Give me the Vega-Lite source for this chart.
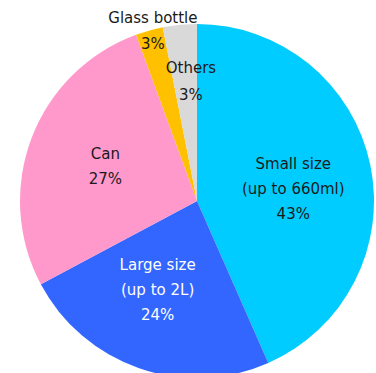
{
  "$schema": "https://vega.github.io/schema/vega-lite/v6.json",
  "width": 358,
  "height": 344,
  "autosize": {"type": "none"},
  "padding": {"left": 18, "right": 0, "top": 29, "bottom": 0},
  "background": "white",
  "view": {"stroke": null},
  "data": {
    "values": [
      {"category": "Small size", "value": 43.4, "order": 1, "label": "Small size\n(up to 660ml)\n43%"},
      {"category": "Large size", "value": 23.8, "order": 2, "label": "Large size\n(up to 2L)\n24%"},
      {"category": "Can", "value": 27.2, "order": 3, "label": "Can\n27%"},
      {"category": "Glass bottle", "value": 2.5, "order": 4, "label": "Glass bottle\n3%"},
      {"category": "Others", "value": 3.1, "order": 5, "label": "Others\n3%"}
    ]
  },
  "encoding": {
    "theta": {"field": "value", "type": "quantitative", "stack": true},
    "order": {"field": "order", "type": "quantitative", "sort": "ascending"}
  },
  "layer": [
    {
      "mark": {"type": "arc", "radius": 177, "stroke": null},
      "encoding": {
        "color": {
          "field": "category",
          "type": "nominal",
          "scale": {
            "domain": ["Small size", "Large size", "Can", "Glass bottle", "Others"],
            "range": ["#00CCFF", "#3366FF", "#FF99CC", "#FFC000", "#D9D9D9"]
          },
          "legend": null
        }
      }
    },
    {
      "mark": {"type": "text", "radius": 97, "thetaOffset": 0.085, "dy": -25, "lineBreak": "\n", "lineHeight": 25, "font": "DejaVu Sans", "fontSize": 15, "align": "center", "baseline": "middle"},
      "encoding": {
        "text": {"condition": {"test": "datum.category === 'Small size' || datum.category === 'Large size'", "field": "label"}, "value": ""},
        "color": {"condition": {"test": "datum.category === 'Large size'", "value": "#ffffff"}, "value": "#1a1a1a"}
      }
    },
    {
      "mark": {"type": "text", "radius": 98, "dy": -12.5, "lineBreak": "\n", "lineHeight": 25, "font": "DejaVu Sans", "fontSize": 15, "align": "center", "baseline": "middle", "color": "#1a1a1a"},
      "encoding": {"text": {"condition": {"test": "datum.category === 'Can'", "field": "label"}, "value": ""}}
    },
    {
      "mark": {"type": "text", "radius": 120, "thetaOffset": 0.047, "dy": -13.5, "lineBreak": "\n", "lineHeight": 27, "font": "DejaVu Sans", "fontSize": 15, "align": "center", "baseline": "middle", "color": "#1a1a1a"},
      "encoding": {"text": {"condition": {"test": "datum.category === 'Others'", "field": "label"}, "value": ""}}
    },
    {
      "mark": {"type": "text", "radius": 176, "thetaOffset": 0.02, "dy": -13, "lineBreak": "\n", "lineHeight": 26, "font": "DejaVu Sans", "fontSize": 15, "align": "center", "baseline": "middle", "color": "#1a1a1a"},
      "encoding": {"text": {"condition": {"test": "datum.category === 'Glass bottle'", "field": "label"}, "value": ""}}
    }
  ]
}
